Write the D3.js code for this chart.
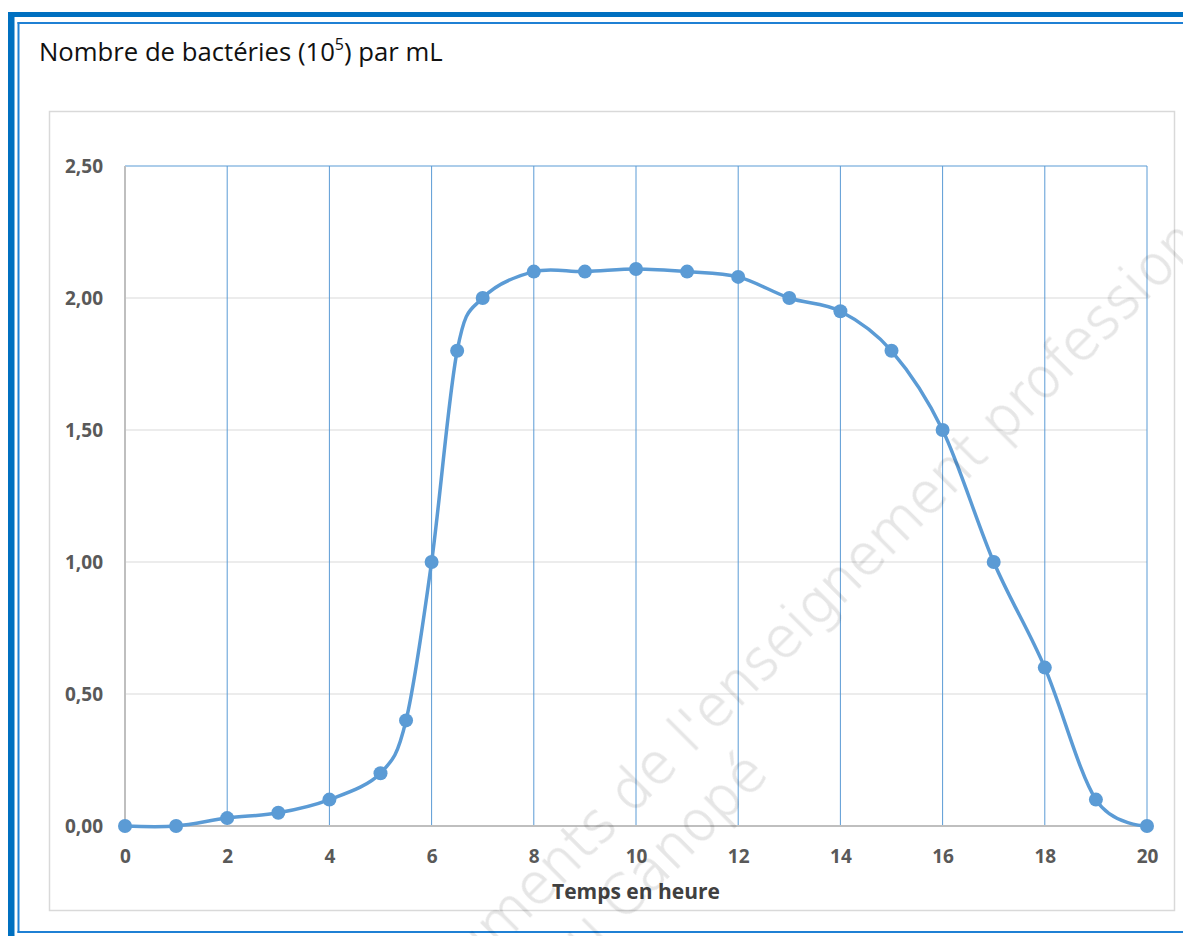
<!DOCTYPE html>
<html>
<head>
<meta charset="utf-8">
<script src="https://cdn.jsdelivr.net/npm/d3@7"></script>
<style>
  html, body { margin: 0; padding: 0; background: #fff; overflow: hidden; }
  .axis text { font-family: "Open Sans", sans-serif; font-weight: bold; font-size: 19px; fill: #595959; }
  .axis path, .axis line { display: none; }
</style>
</head>
<body>
<svg id="chart" width="1183" height="936"></svg>
<script>
// hours and bacteria counts (10^5 / mL)
var hours  = [0, 1, 2, 3, 4, 5, 5.5, 6, 6.5, 7, 8, 9, 10, 11, 12, 13, 14, 15, 16, 17, 18, 19, 20];
var counts = [0, 0, 0.03, 0.05, 0.1, 0.2, 0.4, 1.0, 1.8, 2.0, 2.1, 2.1, 2.11, 2.1, 2.08, 2.0, 1.95, 1.8, 1.5, 1.0, 0.6, 0.1, 0];
var xTicks = [0, 2, 4, 6, 8, 10, 12, 14, 16, 18, 20];
var yTicks = [0, 0.5, 1, 1.5, 2, 2.5];

var blue = "#5b9bd5";

var svg = d3.select("#chart");

// page frame (double blue border)
svg.append("rect").attr("x", 8).attr("y", 12).attr("width", 1200).attr("height", 5).attr("fill", "#0070c0");
svg.append("rect").attr("x", 8).attr("y", 12).attr("width", 6.5).attr("height", 1000).attr("fill", "#0070c0");
svg.append("rect").attr("x", 17.5).attr("y", 22).attr("width", 1200).attr("height", 2).attr("fill", "#1f80d4");
svg.append("rect").attr("x", 17.5).attr("y", 22).attr("width", 2).attr("height", 911).attr("fill", "#1f80d4");
svg.append("rect").attr("x", 17.5).attr("y", 931).attr("width", 1200).attr("height", 2).attr("fill", "#1f80d4");

// title
var title = svg.append("text")
  .attr("x", 39).attr("y", 61)
  .style("font-family", "'Open Sans', sans-serif")
  .style("font-size", "25.7px")
  .style("fill", "#111");
title.append("tspan").text("Nombre de bactéries (10");
title.append("tspan").attr("dy", -11).style("font-size", "16px").text("5");
title.append("tspan").attr("dy", 11).text(") par mL");

// chart area box
svg.append("rect")
  .attr("x", 49.5).attr("y", 111.5)
  .attr("width", 1125).attr("height", 799)
  .attr("fill", "none").attr("stroke", "#d9d9d9").attr("stroke-width", 1.5);

var x = d3.scaleLinear().domain([0, 20]).range([125, 1147]);
var y = d3.scaleLinear().domain([0, 2.5]).range([826, 166]);

// horizontal gridlines
svg.append("g").selectAll("line")
  .data(yTicks.filter(function(d) { return d > 0 && d < 2.5; }))
  .enter().append("line")
  .attr("x1", x(0)).attr("x2", x(20))
  .attr("y1", function(d) { return y(d); })
  .attr("y2", function(d) { return y(d); })
  .attr("stroke", "#d9d9d9").attr("stroke-width", 1);

// top border of plot area
svg.append("line")
  .attr("x1", x(0)).attr("x2", x(20))
  .attr("y1", y(2.5)).attr("y2", y(2.5))
  .attr("stroke", blue).attr("stroke-width", 1.2);

// vertical gridlines
svg.append("g").selectAll("line")
  .data(xTicks.filter(function(d) { return d > 0; }))
  .enter().append("line")
  .attr("x1", function(d) { return x(d); })
  .attr("x2", function(d) { return x(d); })
  .attr("y1", y(2.5)).attr("y2", y(0))
  .attr("stroke", blue).attr("stroke-width", 1);

// axis lines
svg.append("line")
  .attr("x1", x(0)).attr("x2", x(0)).attr("y1", y(2.5)).attr("y2", y(0) + 1)
  .attr("stroke", "#bfbfbf").attr("stroke-width", 2);
svg.append("line")
  .attr("x1", x(0)).attr("x2", x(20)).attr("y1", y(0)).attr("y2", y(0))
  .attr("stroke", "#bfbfbf").attr("stroke-width", 2);

// axes
var fmt = function(d) { return d3.format(".2f")(d).replace(".", ","); };
svg.append("g")
  .attr("class", "axis")
  .attr("transform", "translate(" + x(0) + ",0)")
  .call(d3.axisLeft(y).tickValues(yTicks).tickFormat(fmt).tickSize(0).tickPadding(22));

svg.append("g")
  .attr("class", "axis")
  .attr("transform", "translate(0," + y(0) + ")")
  .call(d3.axisBottom(x).tickValues(xTicks).tickFormat(d3.format("d")).tickSize(0).tickPadding(24));

// x axis label
svg.append("text")
  .attr("x", 636).attr("y", 899)
  .style("text-anchor", "middle")
  .style("font-family", "'Open Sans', sans-serif")
  .style("font-weight", "bold")
  .style("font-size", "21px")
  .style("fill", "#404040")
  .text("Temps en heure");

// curve
var pts = hours.map(function(h, i) { return [h, counts[i]]; });
var line = d3.line()
  .x(function(d) { return x(d[0]); })
  .y(function(d) { return y(d[1]); })
  .curve(d3.curveCatmullRom.alpha(0));

svg.append("path")
  .attr("d", line(pts))
  .attr("fill", "none")
  .attr("stroke", blue)
  .attr("stroke-width", 3.5)
  .attr("stroke-linejoin", "round");

svg.append("g").selectAll("circle")
  .data(pts)
  .enter().append("circle")
  .attr("cx", function(d) { return x(d[0]); })
  .attr("cy", function(d) { return y(d[1]); })
  .attr("r", 7)
  .attr("fill", blue);

// watermark, sized so the visible part spans like the original
var wm = svg.append("g")
  .attr("opacity", 0.1)
  .style("font-family", "'DejaVu Sans', sans-serif")
  .style("font-weight", 200)
  .style("fill", "#000")
  .style("stroke", "#000")
  .style("stroke-width", 1.2)
  .style("pointer-events", "none");

var probe = wm.append("text").style("font-size", "60px").text("de l'enseignement professio");
var wmSize = 60 * 774 / probe.node().getComputedTextLength();
probe.remove();
wm.style("font-size", wmSize + "px");

var probe2 = wm.append("text").text("Canopé");
var canW = probe2.node().getComputedTextLength();
probe2.remove();

wm.append("text")
  .attr("transform", "translate(631,815) rotate(-45)")
  .attr("dx", -0.3 * wmSize)
  .style("text-anchor", "end")
  .text("Documents");
wm.append("text")
  .attr("transform", "translate(631,815) rotate(-45)")
  .text("de l'enseignement professionnel");
wm.append("text")
  .attr("transform", "translate(696,849) rotate(-45)")
  .attr("dx", canW / 2)
  .style("text-anchor", "end")
  .text("Réseau Canopé");
</script>
</body>
</html>
